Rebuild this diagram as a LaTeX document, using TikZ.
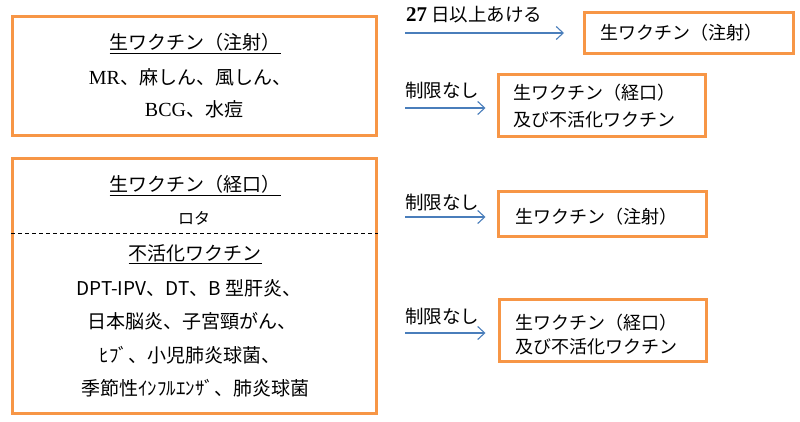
\documentclass[tikz,border=0pt]{standalone}
\usepackage{fontspec}
\setmainfont{Liberation Serif}
\newfontfamily\jp{Noto Sans CJK JP}
\usetikzlibrary{arrows.meta}
\definecolor{boxorange}{HTML}{F79646}
\definecolor{arrowblue}{HTML}{4A7EBB}
\tikzset{
  obox/.style={draw=boxorange, line width=3pt, rectangle, inner sep=0pt},
  ltxt/.style={font=\jp\fontsize{19}{23}\selectfont, inner sep=0pt, anchor=base},
  rtxt/.style={font=\jp\fontsize{18}{22}\selectfont, inner sep=0pt, anchor=base west},
  lbl/.style={font=\jp\fontsize{18.5}{22}\selectfont, inner sep=0pt, anchor=base west},
  arr/.style={draw=arrowblue, line width=1.1pt, -{Straight Barb[length=7pt,width=13pt]}},
  sep/.style={draw=black, line width=0.9pt, dash pattern=on 4pt off 3pt},
}
\begin{document}
\begin{tikzpicture}[x=1pt,y=-1pt]
\useasboundingbox (0,0) rectangle (800,422);
% left boxes
\node[obox, minimum width=364pt, minimum height=119pt] (boxA) at (194.5,76) {};
\node[obox, minimum width=364pt, minimum height=255pt] (boxB) at (194.5,286) {};
% box A texts
\node[ltxt] (a1) at (195,50) {\underline{生ワクチン（注射）}};
\node[ltxt] (a2) at (190,85) {{\rmfamily\fontsize{20}{23}\selectfont MR}、麻しん、風しん、};
\node[ltxt] (a3) at (194,117) {{\rmfamily\fontsize{20}{23}\selectfont BCG}、水痘};
% box B texts
\node[ltxt] (b1) at (195,192) {\underline{生ワクチン（経口）}};
\node[ltxt, font=\jp\fontsize{16}{20}\selectfont] (b2) at (194,224) {ロタ};
\coordinate (dl) at (0,233);
\draw[sep] (boxB.west |- dl) -- (boxB.east |- dl);
\node[ltxt] (b3) at (195,260) {\underline{不活化ワクチン}};
\node[ltxt] (b4) at (189,295) {DPT-IPV、DT、B 型肝炎、};
\node[ltxt] (b5) at (192,328) {日本脳炎、子宮頸がん、};
\node[ltxt] (b6) at (190,362) {ﾋﾌﾞ、小児肺炎球菌、};
\node[ltxt] (b7) at (195,395) {季節性ｲﾝﾌﾙｴﾝｻﾞ、肺炎球菌};
% right boxes
\node[obox, minimum width=209pt, minimum height=41pt] (r1) at (689,33) {};
\node[obox, minimum width=207pt, minimum height=62pt] (r2) at (602,105.5) {};
\node[obox, minimum width=208pt, minimum height=45pt] (r3) at (602.5,214) {};
\node[obox, minimum width=207pt, minimum height=62pt] (r4) at (603,330.5) {};
\node[rtxt] (t1) at (600,40) {生ワクチン（注射）};
\node[rtxt] (t2a) at (513,100) {生ワクチン（経口）};
\node[rtxt] (t2b) at (513,127) {及び不活化ワクチン};
\node[rtxt] (t3) at (515,223) {生ワクチン（注射）};
\node[rtxt] (t4a) at (515,329) {生ワクチン（経口）};
\node[rtxt] (t4b) at (515,353) {及び不活化ワクチン};
% arrows
\coordinate (s1) at (405,33);
\coordinate (s2) at (405,108);
\coordinate (s3) at (405,217);
\coordinate (s4) at (405,333);
\draw[arr, shorten >=19pt] (s1) -- (s1 -| r1.west);
\draw[arr, shorten >=11.5pt] (s2) -- (s2 -| r2.west);
\draw[arr, shorten >=11.5pt] (s3) -- (s3 -| r3.west);
\draw[arr, shorten >=12.5pt] (s4) -- (s4 -| r4.west);
% labels
\node[lbl] (l1) at (406,22) {{\rmfamily\bfseries\fontsize{21}{23}\selectfont 27} 日以上あける};
\node[lbl] (l2) at (405,98) {制限なし};
\node[lbl] (l3) at (405,209) {制限なし};
\node[lbl] (l4) at (405,323) {制限なし};
\end{tikzpicture}
\end{document}
